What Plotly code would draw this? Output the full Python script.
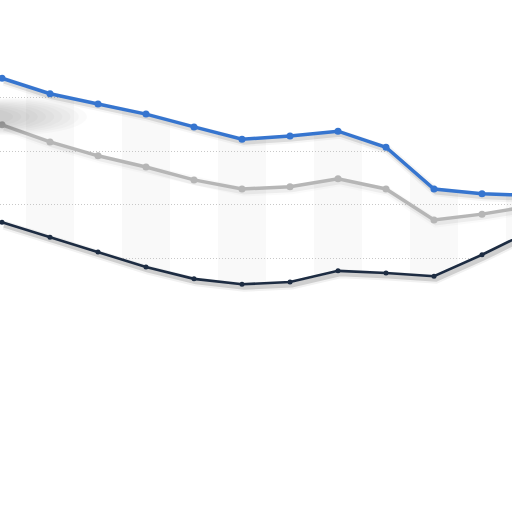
import numpy as np
import plotly.graph_objects as go

# ---- data ----
categories = list(range(12))
series_top = [53.6, 50.7, 48.8, 46.9, 44.5, 42.2, 42.8, 43.7, 40.7, 32.9, 32.0, 31.7]
series_mid = [44.9, 41.7, 39.1, 37.0, 34.6, 32.9, 33.3, 34.8, 32.9, 27.1, 28.2, 29.7]
series_low = [26.7, 23.9, 21.1, 18.3, 16.1, 15.1, 15.5, 17.6, 17.2, 16.6, 20.6, 25.0]

COL_TOP = "#3675cf"
COL_MID = "#b6b6b6"
COL_LOW = "#1d2c42"

PX_PER_X = 48.0
PX_PER_Y = 5.35
x_range = [-2 / PX_PER_X, -2 / PX_PER_X + 512 / PX_PER_X]
y_range = [30 - 307.5 / PX_PER_Y, 30 + 204.5 / PX_PER_Y]
y_hi = y_range[1] + 20
y_lo = y_range[0] - 20

fig = go.Figure()

# white masks outside the band between top and low series (base subplot)
xb = [categories[0] - 1, categories[-1] + 1]
top_ext = [series_top[0]] + series_top + [series_top[-1]]
low_ext = [series_low[0]] + series_low + [series_low[-1]]
x_ext = [categories[0] - 1] + categories + [categories[-1] + 1]
fig.add_trace(go.Scatter(x=xb, y=[y_hi, y_hi], mode="lines", line=dict(width=0),
                         hoverinfo="skip", showlegend=False))
fig.add_trace(go.Scatter(x=x_ext, y=top_ext, mode="none", fill="tonexty",
                         fillcolor="white", hoverinfo="skip", showlegend=False))
fig.add_trace(go.Scatter(x=xb, y=[y_lo, y_lo], mode="lines", line=dict(width=0),
                         hoverinfo="skip", showlegend=False))
fig.add_trace(go.Scatter(x=x_ext, y=low_ext, mode="none", fill="tonexty",
                         fillcolor="white", hoverinfo="skip", showlegend=False))

# shadows on offset axes
for ys, a in ((series_top, 0.10), (series_mid, 0.05), (series_low, 0.14)):
    for w, f in ((9, 0.4), (5, 1.0)):
        fig.add_trace(go.Scatter(x=categories, y=ys, mode="lines",
                                 line=dict(color=f"rgba(0,0,0,{a * f:.3f})", width=w),
                                 xaxis="x2", yaxis="y2", hoverinfo="skip",
                                 showlegend=False))

# visible lines
for ys, col, lw, ms in ((series_low, COL_LOW, 2.6, 5),
                        (series_mid, COL_MID, 3.5, 7),
                        (series_top, COL_TOP, 3.5, 7)):
    fig.add_trace(go.Scatter(x=categories, y=ys, mode="lines+markers",
                             line=dict(color=col, width=lw),
                             marker=dict(color=col, size=ms),
                             xaxis="x3", yaxis="y3", showlegend=False))

# vertical stripes
shapes = []
for c in categories[1::2]:
    shapes.append(dict(type="rect", xref="x", yref="paper", x0=c - 0.5, x1=c + 0.5,
                       y0=0, y1=1, fillcolor="#f9f9f9", line=dict(width=0),
                       layer="below"))
# soft blurred blob at top-left
for i in range(10):
    x1 = 0.17 - i * 0.016
    h = 0.036 - i * 0.002
    shapes.append(dict(type="circle", xref="paper", yref="paper", x0=-0.12, x1=x1,
                       y0=0.772 - h, y1=0.772 + h, fillcolor="rgba(0,0,0,0.018)",
                       line=dict(width=0), layer="above"))

dx = 2 / PX_PER_X
dy = 3 / PX_PER_Y
axis_common = dict(showticklabels=False, zeroline=False, showline=False, ticks="")
fig.update_layout(
    width=512, height=512,
    margin=dict(l=0, r=0, t=0, b=0),
    paper_bgcolor="white", plot_bgcolor="white",
    shapes=shapes,
    xaxis=dict(range=x_range, showgrid=False, **axis_common),
    yaxis=dict(range=y_range, showgrid=True, gridcolor="#c8c8c8", griddash="1px,2px",
               gridwidth=1, tick0=0, dtick=10, **axis_common),
    xaxis2=dict(range=[x_range[0] - dx, x_range[1] - dx], overlaying="x",
                showgrid=False, **axis_common),
    yaxis2=dict(range=[y_range[0] + dy, y_range[1] + dy], overlaying="y",
                showgrid=False, **axis_common),
    xaxis3=dict(range=x_range, overlaying="x", showgrid=False, **axis_common),
    yaxis3=dict(range=y_range, overlaying="y", showgrid=False, **axis_common),
    showlegend=False,
)

fig.write_html("out.html", config={"displayModeBar": False},
               post_script="document.body.style.margin='0';")
